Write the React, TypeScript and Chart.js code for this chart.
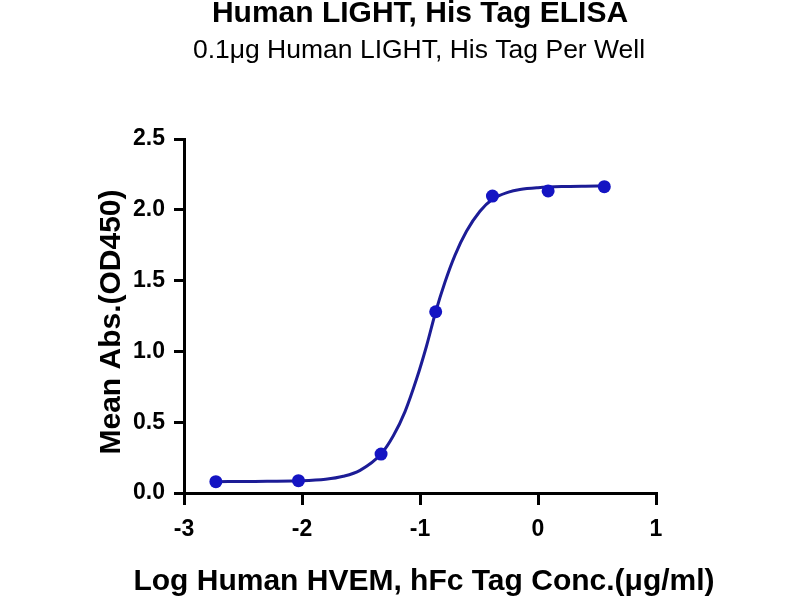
import { useEffect, useRef } from 'react';
import { Chart, registerables } from 'chart.js';

Chart.register(...registerables);

// measured points (log conc. vs mean OD450)
const logConc = [-2.73, -2.03, -1.33, -0.867, -0.386, 0.086, 0.562];
const meanAbs = [0.08, 0.087, 0.275, 1.28, 2.097, 2.133, 2.163];

// fitted curve
const fitX = [-2.73, -2.4, -2.03, -1.8, -1.65, -1.508, -1.33, -1.226, -1.127, -1.028, -0.944, -0.867, -0.788, -0.703, -0.605, -0.492, -0.386, -0.25, -0.153, 0, 0.2, 0.4, 0.562];
const fitY = [0.08, 0.082, 0.086, 0.097, 0.118, 0.16, 0.275, 0.404, 0.575, 0.808, 1.04, 1.28, 1.49, 1.68, 1.85, 1.99, 2.075, 2.125, 2.143, 2.156, 2.164, 2.167, 2.168];

const xTicks = [-3, -2, -1, 0, 1];
const yTicks = [0, 0.5, 1, 1.5, 2, 2.5];

const chartTitle = 'Human LIGHT, His Tag ELISA';
const chartSubtitle = '0.1μg Human LIGHT, His Tag Per Well';
const xTitle = 'Log Human HVEM, hFc Tag Conc.(μg/ml)';
const yTitle = 'Mean Abs.(OD450)';

const FONT = "'Liberation Sans', Arial, sans-serif";

// titles drawn by hand so they can sit outside the plot width
const textPlugin = {
  id: 'textLabels',
  afterDraw(chart: Chart) {
    const { ctx, chartArea } = chart;
    ctx.save();
    ctx.fillStyle = '#000';
    ctx.textAlign = 'center';
    ctx.textBaseline = 'alphabetic';

    ctx.font = `bold 30px ${FONT}`;
    ctx.fillText(chartTitle, 420, 22);

    ctx.font = `26.5px ${FONT}`;
    ctx.fillText(chartSubtitle, 419, 58);

    ctx.font = `bold 30px ${FONT}`;
    ctx.fillText(xTitle, (chartArea.left + chartArea.right) / 2 + 4, 590);

    ctx.translate(120, (chartArea.top + chartArea.bottom) / 2 + 6);
    ctx.rotate(-Math.PI / 2);
    ctx.fillText(yTitle, 0, 0);
    ctx.restore();
  },
};

export default function App() {
  const canvasRef = useRef<HTMLCanvasElement>(null);
  const chartRef = useRef<Chart | null>(null);

  useEffect(() => {
    if (!canvasRef.current) return;
    if (chartRef.current) chartRef.current.destroy();

    const ctx = canvasRef.current.getContext('2d');
    if (!ctx) return;

    chartRef.current = new Chart(ctx, {
      type: 'scatter',
      data: {
        datasets: [
          {
            label: 'Mean Abs.',
            data: logConc.map((x, i) => ({ x, y: meanAbs[i] })),
            showLine: false,
            pointRadius: 6.5,
            pointBackgroundColor: 'rgb(20, 20, 195)',
            pointBorderColor: 'rgb(20, 20, 195)',
            pointBorderWidth: 0,
          },
          {
            label: 'Fit',
            data: fitX.map((x, i) => ({ x, y: fitY[i] })),
            showLine: true,
            borderColor: 'rgb(28, 28, 150)',
            borderWidth: 3,
            pointRadius: 0,
            cubicInterpolationMode: 'monotone',
            fill: false,
          },
        ],
      },
      options: {
        responsive: false,
        animation: false,
        layout: { padding: { left: 0, right: 144, top: 139, bottom: 0 } },
        plugins: {
          legend: { display: false },
          tooltip: { enabled: false },
          title: { display: false },
        },
        scales: {
          x: {
            type: 'linear',
            min: -3,
            max: 1,
            afterBuildTicks: (scale: any) => {
              scale.ticks = xTicks.map((v) => ({ value: v }));
            },
            afterFit: (scale: any) => {
              scale.height = 107;
            },
            ticks: {
              color: '#000',
              padding: 11,
              font: { family: FONT, size: 23, weight: 'bold' },
              callback: (v: any) => String(v),
            },
            grid: {
              drawOnChartArea: false,
              drawTicks: true,
              tickLength: 12,
              lineWidth: 3,
              color: '#000',
            },
            border: { display: true, width: 3, color: '#000' },
          },
          y: {
            type: 'linear',
            min: 0,
            max: 2.5,
            afterBuildTicks: (scale: any) => {
              scale.ticks = yTicks.map((v) => ({ value: v }));
            },
            afterFit: (scale: any) => {
              scale.width = 184;
            },
            ticks: {
              color: '#000',
              padding: 9,
              font: { family: FONT, size: 23, weight: 'bold' },
              callback: (v: any) => Number(v).toFixed(1),
            },
            grid: {
              drawOnChartArea: false,
              drawTicks: true,
              tickLength: 10,
              lineWidth: 3,
              color: '#000',
            },
            border: { display: true, width: 3, color: '#000' },
          },
        },
      },
      plugins: [textPlugin],
    });

    return () => {
      if (chartRef.current) {
        chartRef.current.destroy();
        chartRef.current = null;
      }
    };
  }, []);

  return (
    <div style={{ position: 'fixed', left: 0, top: 0, width: 800, height: 600, background: '#fff' }}>
      <canvas ref={canvasRef} width={800} height={600} style={{ display: 'block' }}></canvas>
    </div>
  );
}
